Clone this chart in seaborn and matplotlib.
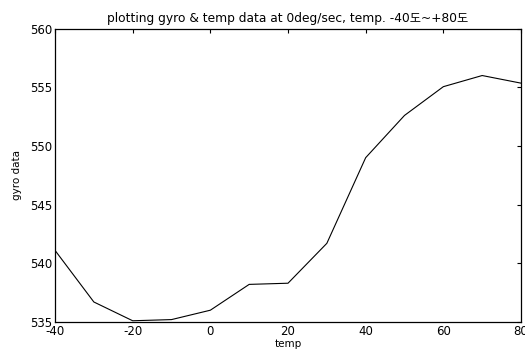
import matplotlib
matplotlib.use("Agg")
import matplotlib.pyplot as plt
import seaborn as sns
import pandas as pd

temp = [-40, -30, -20, -10, 0, 10, 20, 30, 40, 50, 60, 70, 80]
gyro = [541.1, 536.7, 535.1, 535.2, 536.0, 538.2, 538.3, 541.7, 549.0, 552.6, 555.05, 556.0, 555.35]
xticks = [-40, -20, 0, 20, 40, 60, 80]
yticks = [535, 540, 545, 550, 555, 560]

sns.set_style("white")
plt.rcParams['font.family'] = ['DejaVu Sans', 'Noto Sans CJK KR']
plt.rcParams['axes.unicode_minus'] = False

df = pd.DataFrame({"temp": temp, "gyro": gyro})

fig = plt.figure(figsize=(5.25, 3.53), dpi=100)
ax = fig.add_axes([0.1048, 0.088, 0.8876, 0.831])
sns.lineplot(data=df, x="temp", y="gyro", ax=ax, color="black", linewidth=0.8)

ax.set_xlim(-40, 80)
ax.set_ylim(535, 560)
ax.set_xticks(xticks)
ax.set_yticks(yticks)
ax.tick_params(direction="in", length=3, width=0.8, labelsize=8.5, top=True, right=True,
               colors="black", pad=2)
for s in ax.spines.values():
    s.set_color("black")
    s.set_linewidth(0.9)
ax.set_xlabel("temp", fontsize=7.5, labelpad=1, color="black")
ax.set_ylabel("gyro data", fontsize=7.5, labelpad=6, color="black")
ax.set_title("plotting gyro & temp data at 0deg/sec, temp. -40도~+80도", fontsize=8.8, pad=5,
             color="black")

fig.savefig("out.png", dpi=100, facecolor="white")
